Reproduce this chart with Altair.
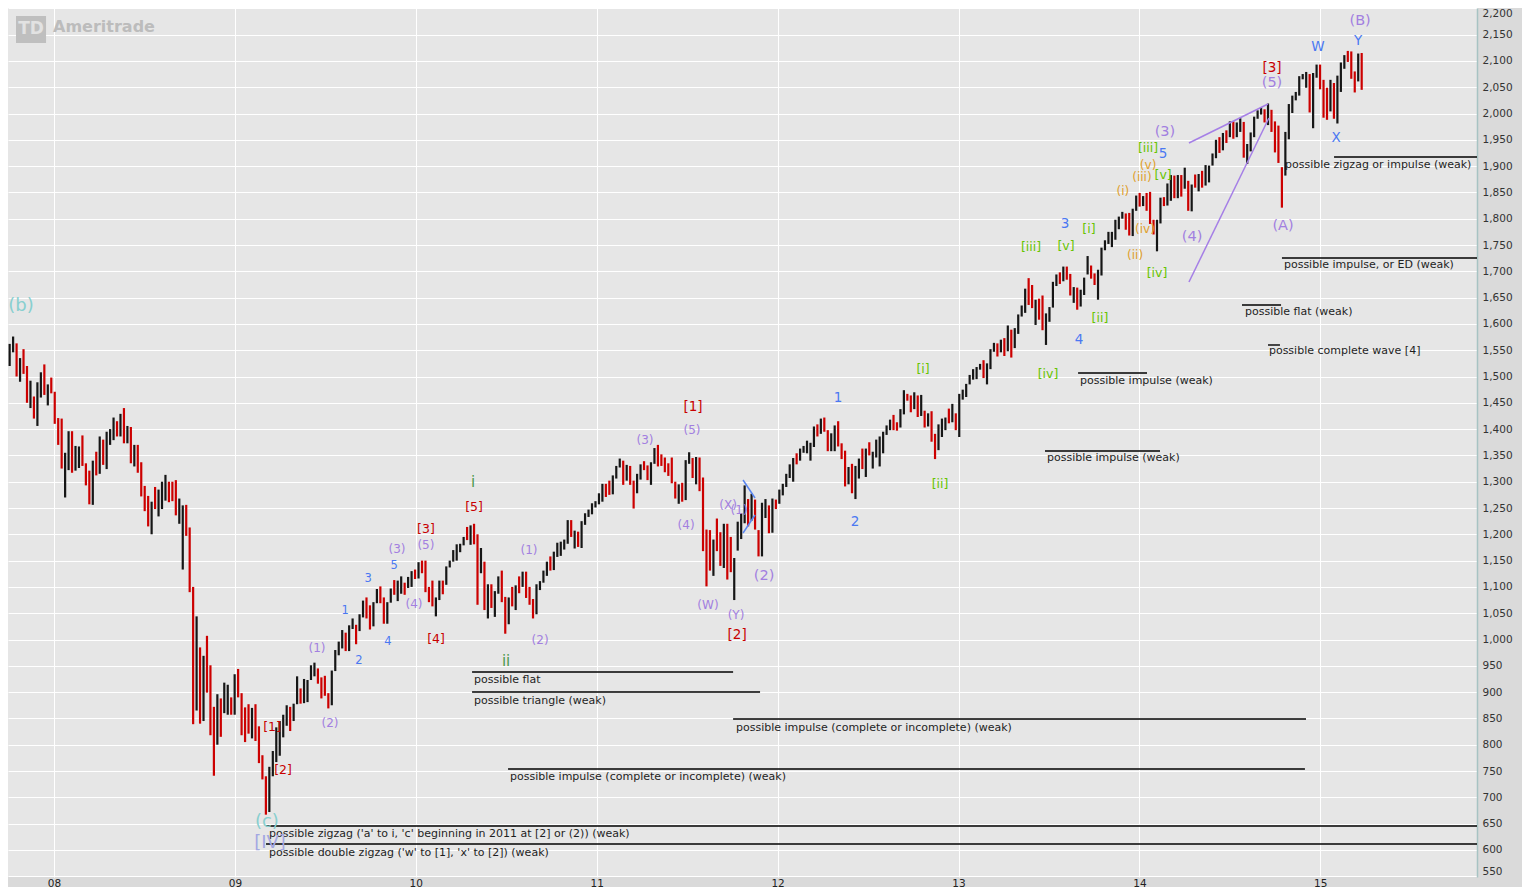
import altair as alt
import pandas as pd

# ---------------- weekly price bars (high / low / close), S&P 500 ----------------
H07 = [1530,1533,1562,1576,1563,1535,1552,1520,1492,1462,1489,1508,1523,1485,1498,1471]
L07 = [1476,1515,1520,1546,1500,1490,1505,1450,1440,1420,1406,1460,1465,1445,1468,1410]
C07 = [1525,1527,1557,1561,1500,1535,1509,1453,1458,1440,1481,1504,1467,1484,1478,1411]

H08 = [1421,1420,1355,1396, 1396,1368,1367,1388, 1335,1321,1340,1357,1386, 1380,1395,1400,1422,
       1415,1429,1440,1406, 1404,1370,1370,1337,1292, 1273,1262,1290,1285, 1300,1313,1300,1300,
       1303,1268,1255,1256,1213, 1100,1044,985,969, 1007,951,872,896, 888,918,914,890,934]
L08 = [1370,1325,1270,1322, 1317,1321,1326,1330, 1293,1257,1256,1312,1315, 1332,1324,1370,1379,
       1386,1386,1373,1373, 1335,1329,1317,1272,1244, 1215,1200,1248,1234, 1248,1264,1261,1263,
       1236,1220,1133,1197,1090, 839,865,840,845, 899,818,741,800, 815,860,857,857,857]
C08 = [1401,1325,1330,1395, 1331,1349,1353,1331, 1294,1288,1330,1315,1370, 1332,1390,1397,1413,
       1388,1425,1375,1400, 1360,1360,1317,1278,1262, 1239,1260,1257,1260, 1296,1298,1292,1283,
       1242,1252,1255,1213,1099, 899,940,877,968, 930,873,800,896, 876,879,887,872,931]

H09 = [944,898,871,877, 870,877,835,780, 740,758,788,833,845, 857,875,872,878, 930,907,925,923,
       951,956,945,928,931, 898,941,980,996, 1018,1013,1027,1040,1028, 1048,1074,1080,1065,
       1071,1096,1101,1080, 1071,1097,1113,1112,1120, 1108,1119,1130,1133]
L09 = [890,818,805,821, 812,807,765,734, 667,672,740,767,779, 814,836,826,845, 877,878,879,881,
       923,930,916,888,893, 869,875,940,970, 983,978,978,1020,991, 1016,1042,1040,1019,
       1025,1069,1069,1030, 1030,1070,1085,1073,1087, 1085,1098,1100,1115]
C09 = [890,850,831,826, 869,826,770,735, 683,756,769,816,843, 857,870,866,877, 929,883,887,919,
       940,946,921,918,896, 879,940,979,987, 1010,1004,1026,1029,1016, 1042,1068,1044,1025,
       1071,1087,1080,1036, 1069,1093,1091,1091,1106, 1102,1102,1126,1115]

H10 = [1147,1150,1150,1100, 1112,1080,1112,1112, 1139,1150,1170,1181,1182, 1195,1214,1217,1220,
       1200,1174,1148,1105,1105, 1092,1120,1131,1081, 1080,1100,1103,1120, 1129,1129,1100,1077,1105,
       1111,1131,1148,1158, 1167,1184,1186,1190, 1227,1227,1207,1205,1225, 1240,1247,1259,1263]
L10 = [1116,1126,1090,1071, 1063,1044,1075,1086, 1104,1137,1148,1150,1166, 1179,1189,1180,1181,
       1066,1126,1056,1040,1060, 1043,1087,1071,1011, 1029,1063,1056,1088, 1100,1079,1066,1040,1048,
       1094,1108,1121,1131, 1132,1157,1159,1171, 1182,1195,1173,1176,1174, 1218,1233,1238,1251]
C10 = [1145,1136,1092,1074, 1066,1075,1109,1104, 1138,1150,1159,1167,1178, 1194,1192,1217,1187,
       1110,1136,1087,1089,1064, 1091,1117,1076,1022, 1078,1065,1102,1101, 1121,1079,1071,1065,1104,
       1110,1125,1148,1146, 1166,1176,1183,1183, 1225,1199,1199,1189,1224, 1240,1244,1257,1258]

H11 = [1278,1296,1296,1302,1312, 1330,1344,1340,1332, 1330,1302,1315,1333, 1339,1331,1337,1364,
       1370,1352,1346,1335,1346, 1300,1295,1298,1341, 1356,1345,1347,1346, 1308,1209,1208,1190,1230,
       1204,1220,1220,1195, 1155,1224,1240,1293,1267, 1277,1266,1208,1260, 1267,1255,1268,1266]
L11 = [1257,1262,1271,1275,1276, 1306,1327,1294,1302, 1294,1249,1278,1304, 1322,1303,1294,1334,
       1329,1330,1318,1311,1297, 1268,1258,1262,1265, 1334,1307,1295,1282, 1168,1101,1131,1121,1168,
       1140,1136,1114,1128, 1075,1169,1191,1221,1215, 1226,1209,1158,1158, 1231,1202,1203,1248]
C11 = [1271,1293,1283,1276,1310, 1329,1343,1320,1321, 1304,1279,1313,1332, 1328,1319,1337,1363,
       1340,1338,1333,1331,1300, 1271,1271,1268,1339, 1344,1316,1345,1292, 1199,1179,1124,1177,1174,
       1154,1216,1136,1131, 1155,1224,1238,1285,1253, 1263,1216,1159,1244, 1255,1219,1265,1258]

H12 = [1285,1296,1315,1333,1345, 1354,1363,1368,1378, 1374,1405,1409,1420, 1422,1398,1392,1407,1415,
       1373,1359,1328,1334, 1330,1344,1363,1363, 1375,1357,1380,1386,1395, 1407,1418,1427,1413,
       1438,1474,1467,1464, 1470,1464,1465,1435,1430, 1434,1391,1409,1420, 1422,1439,1448,1430,1467]
L12 = [1258,1274,1290,1307,1300, 1333,1340,1355,1354, 1340,1366,1386,1391, 1395,1358,1358,1358,1367,
       1343,1291,1295,1278, 1267,1306,1324,1309, 1350,1325,1346,1329,1354, 1389,1398,1398,1397,
       1403,1428,1454,1432, 1438,1423,1425,1403,1405, 1376,1343,1360,1385, 1398,1411,1413,1398,1385]
C12 = [1278,1289,1315,1316,1345, 1342,1361,1366,1370, 1371,1404,1397,1408, 1398,1370,1378,1403,1369,
       1353,1295,1318,1278, 1325,1343,1335,1362, 1354,1356,1362,1386,1391, 1406,1418,1411,1407,
       1438,1465,1460,1441, 1461,1428,1433,1412,1414, 1380,1359,1409,1416, 1418,1413,1430,1385,1466]

H13 = [1475,1486,1503,1514, 1518,1524,1531,1525, 1552,1564,1563,1570, 1573,1597,1589,1592,1618,
       1635,1667,1687,1674, 1646,1648,1654,1620, 1632,1680,1694,1698,1709, 1709,1695,1670,1669,
       1665,1688,1729,1711,1696, 1703,1745,1759,1775, 1775,1798,1804,1813, 1810,1811,1819,1844,1849]
L13 = [1456,1461,1485,1494, 1495,1513,1497,1485, 1514,1547,1538,1546, 1539,1548,1536,1554,1581,
       1614,1621,1636,1630, 1598,1608,1588,1560, 1604,1631,1672,1676,1681, 1684,1654,1640,1627,
       1633,1655,1694,1686,1674, 1646,1692,1740,1752, 1746,1760,1780,1800, 1779,1768,1767,1815,1823]
C13 = [1472,1486,1503,1513, 1518,1520,1515,1518, 1551,1561,1556,1569, 1553,1588,1555,1582,1614,
       1633,1667,1650,1631, 1643,1626,1592,1606, 1632,1680,1692,1691,1709, 1691,1655,1664,1633,
       1655,1688,1710,1692,1690, 1703,1744,1759,1762, 1771,1798,1804,1806, 1805,1775,1818,1841,1831]

H14 = [1843,1849,1851,1798, 1798,1840,1841,1867, 1883,1882,1883,1883,1897, 1872,1865,1884,1885,
       1891,1902,1901,1924, 1950,1955,1963,1968,1985, 1985,1983,1991,1984, 1942,1964,1994,2006,
       2012,2008,2019,2007,1985, 1977,1898,1965,2018, 2034,2041,2071,2075, 2079,2075,2077,2093,2093]
L14 = [1824,1815,1790,1770, 1738,1791,1824,1825, 1834,1839,1839,1842,1857, 1815,1814,1859,1852,
       1859,1863,1869,1901, 1915,1925,1930,1944,1955, 1952,1955,1965,1916, 1904,1928,1955,1990,
       1998,1983,1978,1965,1926, 1906,1821,1882,1951, 2001,2025,2034,2065, 2049,2002,1972,2068,2046]
C14 = [1842,1838,1790,1782, 1797,1838,1836,1859, 1878,1841,1866,1857,1865, 1815,1865,1863,1881,
       1878,1878,1900,1924, 1949,1937,1963,1961,1985, 1967,1978,1978,1925, 1931,1955,1988,2003,
       2007,1985,2010,1982,1967, 1906,1886,1964,2018, 2032,2039,2064,2068, 2075,2002,2070,2089,2058]

H15 = [2064,2049,2064,2058, 2072,2097,2111,2119, 2118,2080,2114,2115]
L15 = [1992,1988,2004,1990, 1981,2041,2085,2098, 2066,2040,2061,2045]
C15 = [2044,2019,2051,1995, 2055,2097,2110,2105, 2071,2053,2108,2061]

highs = H07 + H08 + H09 + H10 + H11 + H12 + H13 + H14 + H15
lows = L07 + L08 + L09 + L10 + L11 + L12 + L13 + L14 + L15
closes = C07 + C08 + C09 + C10 + C11 + C12 + C13 + C14 + C15
assert len(highs) == len(lows) == len(closes)

weeks = pd.date_range("2007-09-17", periods=len(highs), freq="W-MON") + pd.Timedelta(days=2)
tyear = weeks.year + (weeks.dayofyear - 0.5) / (365 + weeks.is_leap_year.astype(int))

UP, DOWN = "#161616", "#cc0000"
bar_color = [UP] + [UP if closes[i] >= closes[i - 1] else DOWN for i in range(1, len(closes))]
bars_df = pd.DataFrame({"t": tyear, "hi": highs, "lo": lows, "c": bar_color})

# ---------------- wave labels (text, decimal year, price, style) ----------------
lab_text = ["(b)", "(c)", "[IV]", "[1]", "[2]", "(1)", "(2)", "1", "2", "3", "4", "5", "(3)", "(4)", "(5)",
            "[3]", "[4]", "[5]", "i", "(1)", "(2)", "ii",
            "(3)", "[1]", "(5)", "(4)", "(W)", "(X)", "(1)", "(Y)", "[2]", "(2)", "1", "2",
            "[i]", "[ii]", "[iii]", "[iv]", "[v]", "3", "4", "[i]", "[ii]",
            "(i)", "(ii)", "(iii)", "(iv)", "(v)", "[iii]", "5", "[v]", "[iv]",
            "(3)", "(4)", "[3]", "(5)", "(A)", "W", "X", "Y", "(B)"]
lab_t = [2007.8176, 2009.177, 2009.194, 2009.205, 2009.266, 2009.454, 2009.526, 2009.609, 2009.686,
         2009.736, 2009.846, 2009.880, 2009.896, 2009.990, 2010.056,
         2010.056, 2010.112, 2010.322, 2010.316, 2010.626, 2010.687, 2010.499,
         2011.267, 2011.532, 2011.527, 2011.494, 2011.615, 2011.726, 2011.787, 2011.770, 2011.776,
         2011.925, 2012.334, 2012.428,
         2012.804, 2012.898, 2013.401, 2013.495, 2013.594, 2013.589, 2013.666, 2013.721, 2013.782,
         2013.909, 2013.976, 2014.014, 2014.031, 2014.048, 2014.048, 2014.131, 2014.131, 2014.097,
         2014.141, 2014.291, 2014.733, 2014.733, 2014.794, 2014.987, 2015.087, 2015.209, 2015.220]
lab_p = [1634.0, 653.1, 613.1, 833.7, 751.9, 983.9, 841.3, 1054.2, 959.1, 1115.0, 995.3, 1139.8,
         1172.1, 1067.5, 1179.7,
         1210.1, 1001.0, 1251.9, 1299.4, 1170.2, 999.1, 959.1,
         1379.3, 1442.0, 1398.3, 1217.7, 1065.6, 1255.7, 1246.2, 1046.6, 1008.6, 1120.7, 1459.1, 1223.4,
         1514.3, 1295.6, 1746.2, 1504.8, 1748.1, 1789.9, 1569.4, 1780.4, 1611.2,
         1852.7, 1731.0, 1879.3, 1780.4, 1902.1, 1934.4, 1923.0, 1883.1, 1696.8,
         1964.8, 1765.2, 2086.5, 2058.0, 1786.1, 2126.4, 1953.4, 2137.8, 2175.9]
lab_kind = ["teal", "teal", "iv", "red_s", "red_s", "pur_s", "pur_s", "blue_s", "blue_s", "blue_s",
            "blue_s", "blue_s", "pur_s", "pur_s", "pur_s",
            "red_s", "red_s", "red_s", "dgreen", "pur_s", "pur_s", "dgreen",
            "pur_s", "red", "pur_s", "pur_s", "pur_s", "pur_s", "pur_s", "pur_s", "red", "pur_l",
            "blue", "blue",
            "green", "green", "green", "green", "green", "blue", "blue", "green", "green",
            "orange", "orange", "orange", "orange", "orange", "green", "blue", "green", "green",
            "pur_l", "pur_l", "red", "pur_l", "pur_l", "blue", "blue", "blue", "pur_l"]
KIND_COLOR = {"teal": "#88cfcf", "iv": "#a3a7e2", "red": "#c80000", "red_s": "#c80000",
              "pur_s": "#a27fe0", "pur_l": "#a27fe0", "blue": "#4a78f2", "blue_s": "#4a78f2",
              "dgreen": "#4f9a4f", "green": "#66c400", "orange": "#dfa02c"}
KIND_SIZE = {"teal": 18, "iv": 18, "red": 13.5, "red_s": 12.5, "pur_s": 12, "pur_l": 14.5,
             "blue": 13.5, "blue_s": 11.5, "dgreen": 15, "green": 12.5, "orange": 12}
labels_df = pd.DataFrame({"text": lab_text, "t": lab_t, "p": lab_p,
                          "c": [KIND_COLOR[k] for k in lab_kind],
                          "fs": [KIND_SIZE[k] for k in lab_kind]})

# ---------------- scenario notes with their underline ----------------
END = 2015.8662
note_text = ["possible zigzag or impulse (weak)", "possible impulse, or ED (weak)", "possible flat (weak)",
             "possible complete wave [4]", "possible impulse (weak)", "possible impulse (weak)",
             "possible flat", "possible triangle (weak)",
             "possible impulse (complete or incomplete) (weak)",
             "possible impulse (complete or incomplete) (weak)",
             "possible zigzag ('a' to i, 'c' beginning in 2011 at [2] or (2)) (weak)",
             "possible double zigzag ('w' to [1], 'x' to [2]) (weak)"]
note_t = [2014.805, 2014.799, 2014.584, 2014.716, 2013.672, 2013.489, 2010.322, 2010.322,
          2011.770, 2010.521, 2009.189, 2009.189]
note_p = [1902.1, 1712.0, 1622.6, 1548.5, 1491.5, 1345.1, 923.0, 883.1, 831.8, 738.6, 630.3, 594.1]
line_t1 = [2015.076, 2014.788, 2014.567, 2014.711, 2013.661, 2013.478, 2010.311, 2010.311,
           2011.754, 2010.510, 2009.172, 2009.172]
line_t2 = [END, END, 2014.783, 2014.777, 2014.042, 2014.114, 2011.754, 2011.903,
           2014.921, 2014.915, END, END]
line_p = [1917.3, 1725.3, 1635.9, 1559.9, 1506.7, 1358.4, 938.2, 900.2, 848.9, 753.8, 645.5, 611.2]
notes_df = pd.DataFrame({"text": note_text, "t": note_t, "p": note_p})
uline_df = pd.DataFrame({"t1": line_t1, "t2": line_t2, "p": line_p})

# ---------------- trend lines (ending diagonal, small triangle) ----------------
tl_t1 = [2014.274, 2014.274, 2011.809, 2011.809]
tl_p1 = [1943.9, 1679.7, 1303.2, 1202.5]
tl_t2 = [2014.711, 2014.716, 2011.875, 2011.875]
tl_p2 = [2018.1, 1991.4, 1269.0, 1236.7]
tl_c = ["#a57fe6", "#a57fe6", "#5a86f0", "#5a86f0"]
trend_df = pd.DataFrame({"t1": tl_t1, "p1": tl_p1, "t2": tl_t2, "p2": tl_p2, "c": tl_c})

# ---------------- watermark ----------------
logo_box = pd.DataFrame({"t1": [2007.790], "t2": [2007.956], "p1": [2134.0], "p2": [2185.4]})
logo_txt = pd.DataFrame({"text": ["TD", "Ameritrade"], "t": [2007.873, 2007.9945], "p": [2160.6, 2164.4]})

# ---------------- chart ----------------
FONT = "DejaVu Sans"
xscale = alt.Scale(domain=[2007.7457, END], nice=False, zero=False)
yscale = alt.Scale(domain=[548.5, 2200.57], nice=False, zero=False)
xaxis = alt.Axis(values=list(range(2008, 2016)), labelExpr="substring(toString(datum.value), 2, 4)",
                 title=None, grid=True, gridColor="white", gridWidth=1, domain=False, ticks=False,
                 tickSize=0, labelPadding=1, labelFont=FONT, labelFontSize=10.5, labelColor="#222222")
yaxis = alt.Axis(orient="right", values=list(range(550, 2201, 50)),
                 labelExpr="format(datum.value, ',')", title=None, grid=True,
                 gridColor="white", gridWidth=1, domain=True, domainColor="#a7c3c3", domainWidth=1.5,
                 ticks=False, tickSize=0, labelPadding=5, labelFont=FONT, labelFontSize=10.5,
                 labelColor="#333333", labelFlush=True)


def X(field):
    return alt.X(field, type="quantitative", scale=xscale, axis=xaxis)


def Y(field):
    return alt.Y(field, type="quantitative", scale=yscale, axis=yaxis)


bars = alt.Chart(bars_df).mark_rule(strokeWidth=2.2, clip=True).encode(
    x=X("t"), y=Y("lo"), y2="hi:Q", color=alt.Color("c:N", scale=None))

ulines = alt.Chart(uline_df).mark_rule(color="#000000", strokeWidth=1.4).encode(
    x=X("t1"), x2="t2:Q", y=Y("p"))

notes = alt.Chart(notes_df).mark_text(align="left", baseline="middle", font=FONT, fontSize=11,
                                      color="#1e1e1e").encode(x=X("t"), y=Y("p"), text="text:N")

trends = alt.Chart(trend_df).mark_rule(strokeWidth=1.5).encode(
    x=X("t1"), y=Y("p1"), x2="t2:Q", y2="p2:Q", color=alt.Color("c:N", scale=None))

waves = alt.Chart(labels_df).mark_text(align="center", baseline="middle", font=FONT).encode(
    x=X("t"), y=Y("p"), text="text:N", color=alt.Color("c:N", scale=None),
    size=alt.Size("fs:Q", scale=None))

logo_rect = alt.Chart(logo_box).mark_rect(color="#bfbfbf").encode(
    x=X("t1"), x2="t2:Q", y=Y("p1"), y2="p2:Q")
logo_td = alt.Chart(logo_txt.iloc[[0]]).mark_text(align="center", baseline="middle", font=FONT,
                                                  fontSize=17, fontWeight="bold", color="#e2e2e2").encode(
    x=X("t"), y=Y("p"), text="text:N")
logo_name = alt.Chart(logo_txt.iloc[[1]]).mark_text(align="left", baseline="middle", font=FONT,
                                                    fontSize=16, fontWeight="bold", color="#bcbcbc").encode(
    x=X("t"), y=Y("p"), text="text:N")

chart = alt.layer(bars, logo_rect, logo_td, logo_name, ulines, trends, notes, waves).properties(
    width=1469, height=869,
    padding={"left": 0, "top": 0, "right": 45, "bottom": 10},
    autosize=alt.AutoSizeParams(type="none"),
    background="#dadada",
).configure_view(fill="#e6e6e6", stroke=None)

chart.save("out.html", embed_options={"renderer": "svg", "actions": False})
